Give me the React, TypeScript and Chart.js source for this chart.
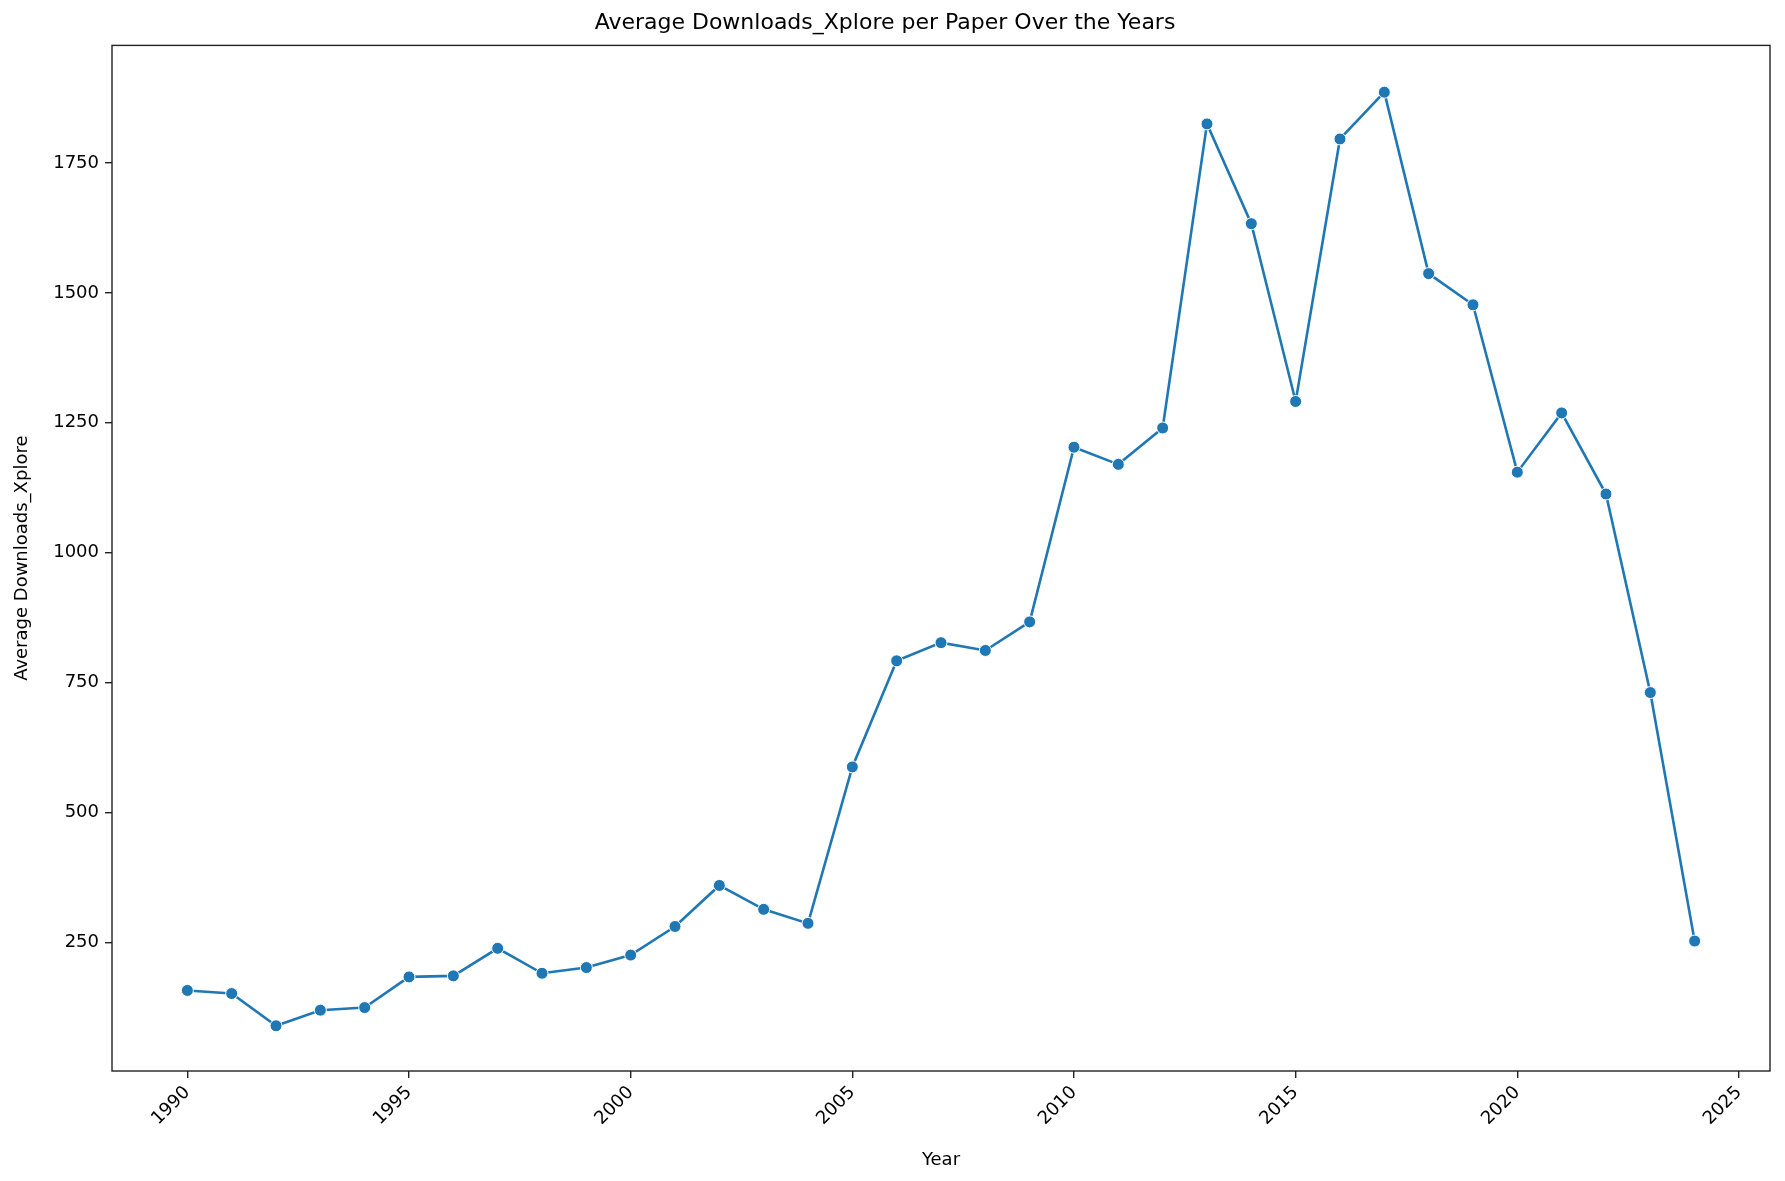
import React, { useEffect, useRef } from 'react';
import { Chart, registerables } from 'chart.js';

Chart.register(...registerables);

const years = [1990, 1991, 1992, 1993, 1994, 1995, 1996, 1997, 1998, 1999, 2000, 2001, 2002, 2003, 2004, 2005, 2006, 2007, 2008, 2009, 2010, 2011, 2012, 2013, 2014, 2015, 2016, 2017, 2018, 2019, 2020, 2021, 2022, 2023, 2024];
const downloads = [158, 152, 90, 120, 125, 184, 186, 239, 191, 202, 226, 281, 360, 314, 287, 588, 792, 827, 812, 867, 1203, 1170, 1240, 1825, 1633, 1291, 1796, 1886, 1537, 1477, 1155, 1269, 1113, 731, 253];
const yTicks = [250, 500, 750, 1000, 1250, 1500, 1750];
const xTicks = [1990, 1995, 2000, 2005, 2010, 2015, 2020, 2025];

const FONT = 'DejaVu Sans';
const INK = '#222';

const frame = {
  id: 'frame',
  afterDraw(chart: any) {
    const { ctx, chartArea: a } = chart;
    ctx.save();
    ctx.strokeStyle = INK;
    ctx.lineWidth = 1.4;
    ctx.strokeRect(a.left, a.top, a.right - a.left, a.bottom - a.top);
    ctx.restore();
  },
};

const App: React.FC = () => {
  const ref = useRef<HTMLCanvasElement>(null);

  useEffect(() => {
    if (!ref.current) return;
    const chart = new Chart(ref.current, {
      type: 'line',
      data: {
        datasets: [{
          data: years.map((y, i) => ({ x: y, y: downloads[i] })),
          borderColor: '#1f77b4',
          backgroundColor: '#1f77b4',
          borderWidth: 2.6,
          pointRadius: 6,
          pointBorderColor: '#ffffff',
          pointBorderWidth: 1,
          tension: 0,
        }],
      },
      options: {
        animation: false,
        responsive: false,
        layout: { padding: { left: 0, right: 15, top: 0, bottom: 0 } },
        plugins: {
          legend: { display: false },
          tooltip: { enabled: false },
          title: {
            display: true,
            text: 'Average Downloads_Xplore per Paper Over the Years',
            color: '#000',
            font: { family: FONT, size: 22, weight: 'normal' },
            padding: { top: 10, bottom: 9 },
          },
        },
        scales: {
          x: {
            type: 'linear',
            min: 1988.3,
            max: 2025.7,
            afterBuildTicks: (s: any) => { s.ticks = xTicks.map(v => ({ value: v })); },
            afterFit: (s: any) => { s.height = 110; },
            ticks: { color: '#000', font: { family: FONT, size: 18 }, maxRotation: 45, minRotation: 45, padding: 4, callback: (v: any) => String(v) },
            grid: { drawOnChartArea: false, tickLength: 7, color: INK, lineWidth: 1.4 },
            border: { display: false },
            title: { display: true, text: 'Year', color: '#000', font: { family: FONT, size: 18 }, padding: { top: 0, bottom: 10 } },
          },
          y: {
            min: 3,
            max: 1976,
            afterBuildTicks: (s: any) => { s.ticks = yTicks.map(v => ({ value: v })); },
            afterFit: (s: any) => { s.width = 112; },
            ticks: { color: '#000', font: { family: FONT, size: 18 }, padding: 6, callback: (v: any) => String(v) },
            grid: { drawOnChartArea: false, tickLength: 7, color: INK, lineWidth: 1.4 },
            border: { display: false },
            title: { display: true, text: 'Average Downloads_Xplore', color: '#000', font: { family: FONT, size: 18 }, padding: { top: 12, bottom: 0 } },
          },
        },
      },
      plugins: [frame],
    });
    return () => chart.destroy();
  }, []);

  return (
    <div style={{ position: 'absolute', left: 0, top: 0, width: 1785, height: 1181, background: '#fff' }}>
      <canvas ref={ref} width={1785} height={1181} style={{ width: 1785, height: 1181 }} />
    </div>
  );
};

export default App;
